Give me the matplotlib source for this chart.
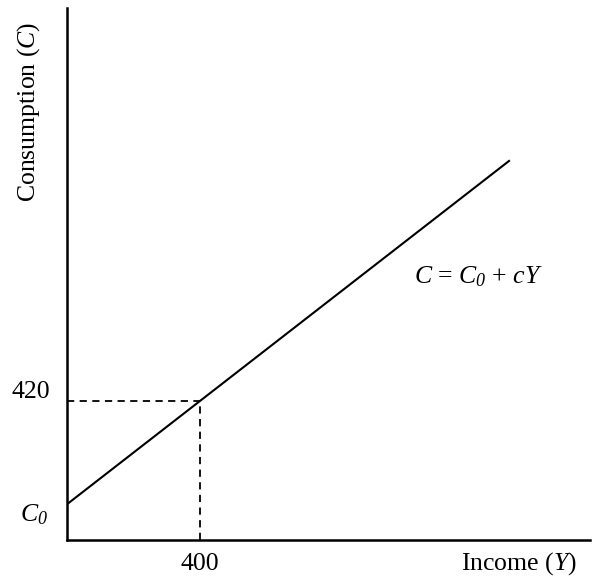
import numpy as np
import matplotlib
matplotlib.use("Agg")
import matplotlib.pyplot as plt

plt.rcParams['font.family'] = ['Liberation Serif', 'DejaVu Serif']
plt.rcParams['mathtext.fontset'] = 'custom'
plt.rcParams['mathtext.rm'] = 'Liberation Serif'
plt.rcParams['mathtext.it'] = 'Liberation Serif:italic'
plt.rcParams['mathtext.cal'] = 'Liberation Serif:italic'

# Consumption function C = C0 + cY
autonomous_consumption = 108
mpc = 0.78
income_range = [0, 1332]
marked_income = 400
marked_consumption = 420
x_max = 1573
y_max = 1607

fig = plt.figure(figsize=(5.93, 5.77), dpi=100)
ax = fig.add_axes([67 / 593, 37 / 577, (590 - 67) / 593, (540 - 8) / 577])

Y = np.array(income_range, dtype=float)
C = autonomous_consumption + mpc * Y
ax.plot(Y, C, color='black', lw=1.5, solid_capstyle='butt')

# dashed guides to the marked point
ax.plot([0, marked_income], [marked_consumption, marked_consumption],
        color='black', lw=1.3, ls=(0, (4, 3)))
ax.plot([marked_income, marked_income], [0, marked_consumption],
        color='black', lw=1.3, ls=(0, (4, 3)))

ax.set_xlim(0, x_max)
ax.set_ylim(0, y_max)
for s in ['top', 'right']:
    ax.spines[s].set_visible(False)
for s in ['left', 'bottom']:
    ax.spines[s].set_linewidth(1.8)
ax.set_xticks([])
ax.set_yticks([])

# italic subscript zero
c0 = r'$C_{\mathcal{0}}$'

fs = 18.5
ax.text(marked_income, -72, '400', ha='center', va='center', fontsize=fs)
ax.text(-50, 447, '420', ha='right', va='center', fontsize=fs)
ax.text(-57, 75, c0, ha='right', va='center', fontsize=fs)
ax.text(1534, -70, r'Income ($Y$)', ha='right', va='center', fontsize=fs)
ax.text(-117, 1293, r'Consumption ($C$)', ha='center', va='center',
        rotation=90, fontsize=fs)
ax.text(1044, 795, r'$C$ = ' + c0 + r' + $cY$', ha='left', va='center', fontsize=fs)

fig.savefig('out.png', dpi=100)
